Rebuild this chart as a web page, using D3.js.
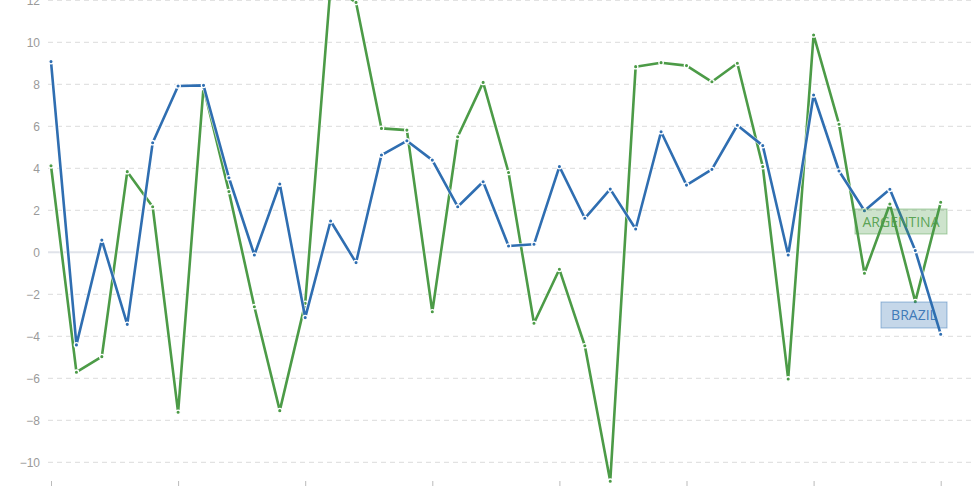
<!DOCTYPE html>
<html>
<head>
<meta charset="utf-8">
<script src="https://cdn.jsdelivr.net/npm/d3@7/dist/d3.min.js"></script>
<style>
html,body{margin:0;padding:0;background:#fff;overflow:hidden;}
svg{display:block;font-family:"Open Sans",sans-serif;}
</style>
</head>
<body>
<svg id="chart" width="974" height="487"></svg>
<script>
const years = d3.range(1980, 2016);
const brazil = [9.08,-4.41,0.58,-3.43,5.22,7.92,7.95,3.55,-0.13,3.25,-3.11,1.49,-0.49,4.63,5.31,4.39,2.17,3.36,0.3,0.38,4.08,1.62,3.01,1.11,5.74,3.2,3.95,6.05,5.08,-0.13,7.49,3.87,1.98,3.0,0.08,-3.9];
const argentina = [4.12,-5.71,-4.97,3.84,2.17,-7.62,7.85,2.89,-2.59,-7.54,-2.43,12.7,11.9,5.9,5.82,-2.83,5.5,8.09,3.8,-3.38,-0.81,-4.45,-10.9,8.84,9.03,8.89,8.12,9.0,4.08,-6.03,10.35,6.1,-1.0,2.3,-2.35,2.38];
const yTicks = [-10,-8,-6,-4,-2,0,2,4,6,8,10,12];
const xTickYears = [1980,1985,1990,1995,2000,2005,2010,2015];
const seriesNames = ["BRAZIL","ARGENTINA"];

const svg = d3.select("#chart");
const W = 974, H = 487;
const x = d3.scalePoint().domain(years).range([51, 940.7]);
const y = d3.scaleLinear().domain([-11, 12]).range([483.3, 0.3]);

const grid = svg.append("g");
yTicks.forEach(t => {
  grid.append("line")
    .attr("x1", 48).attr("x2", W)
    .attr("y1", y(t)).attr("y2", y(t))
    .attr("stroke", t === 0 ? "#e0e3ea" : "#e2e2e2")
    .attr("stroke-width", t === 0 ? 2 : 1.2)
    .attr("stroke-dasharray", t === 0 ? null : "5,4");
});

const yAxis = d3.axisLeft(y).tickValues(yTicks).tickSize(0).tickPadding(0);
const gy = svg.append("g").attr("transform", "translate(40,0)").call(yAxis);
gy.select(".domain").remove();
gy.selectAll("text").attr("fill", "#9a9a9a").style("font-size", "12px").attr("dy", "0.35em");

const xAxis = d3.axisBottom(x).tickValues(xTickYears).tickSize(5).tickFormat("");
const gx = svg.append("g").attr("transform", "translate(0,481)").call(xAxis);
gx.select(".domain").remove();
gx.selectAll("line").attr("stroke", "#bbb");

const colors = {BRAZIL: "#2f6eb1", ARGENTINA: "#4c9b47"};
const data = {BRAZIL: brazil, ARGENTINA: argentina};
const line = d3.line().x((d, i) => x(years[i])).y(d => y(d));

["ARGENTINA", "BRAZIL"].forEach(name => {
  const vals = data[name];
  const g = svg.append("g");
  g.append("path").datum(vals).attr("d", line)
    .attr("fill", "none").attr("stroke", "#fff").attr("stroke-width", 4).attr("stroke-opacity", 0.7)
    .attr("stroke-linejoin", "round");
  g.append("path").datum(vals).attr("d", line)
    .attr("fill", "none").attr("stroke", colors[name]).attr("stroke-width", 2.6)
    .attr("stroke-linejoin", "round");
  g.selectAll("circle").data(vals).join("circle")
    .attr("cx", (d, i) => x(years[i])).attr("cy", d => y(d))
    .attr("r", 2.2).attr("fill", colors[name]).attr("stroke", "#fff").attr("stroke-width", 1.3);
});

// labels near series end
const labelInfo = [
  {name: "ARGENTINA", x1: 855, y1: 209, w: 92, h: 25},
  {name: "BRAZIL", x1: 881, y1: 302, w: 66, h: 26}
];
labelInfo.forEach(l => {
  const g = svg.append("g");
  g.append("rect").attr("x", l.x1).attr("y", l.y1).attr("width", l.w).attr("height", l.h)
    .attr("fill", colors[l.name]).attr("fill-opacity", 0.28)
    .attr("stroke", colors[l.name]).attr("stroke-opacity", 0.45).attr("stroke-width", 1);
  g.append("text").attr("x", l.x1 + l.w / 2).attr("y", l.y1 + l.h / 2).attr("dy", "0.36em")
    .attr("text-anchor", "middle").attr("fill", colors[l.name]).attr("fill-opacity", 0.9)
    .style("font-size", "14px").text(l.name);
});
</script>
</body>
</html>
